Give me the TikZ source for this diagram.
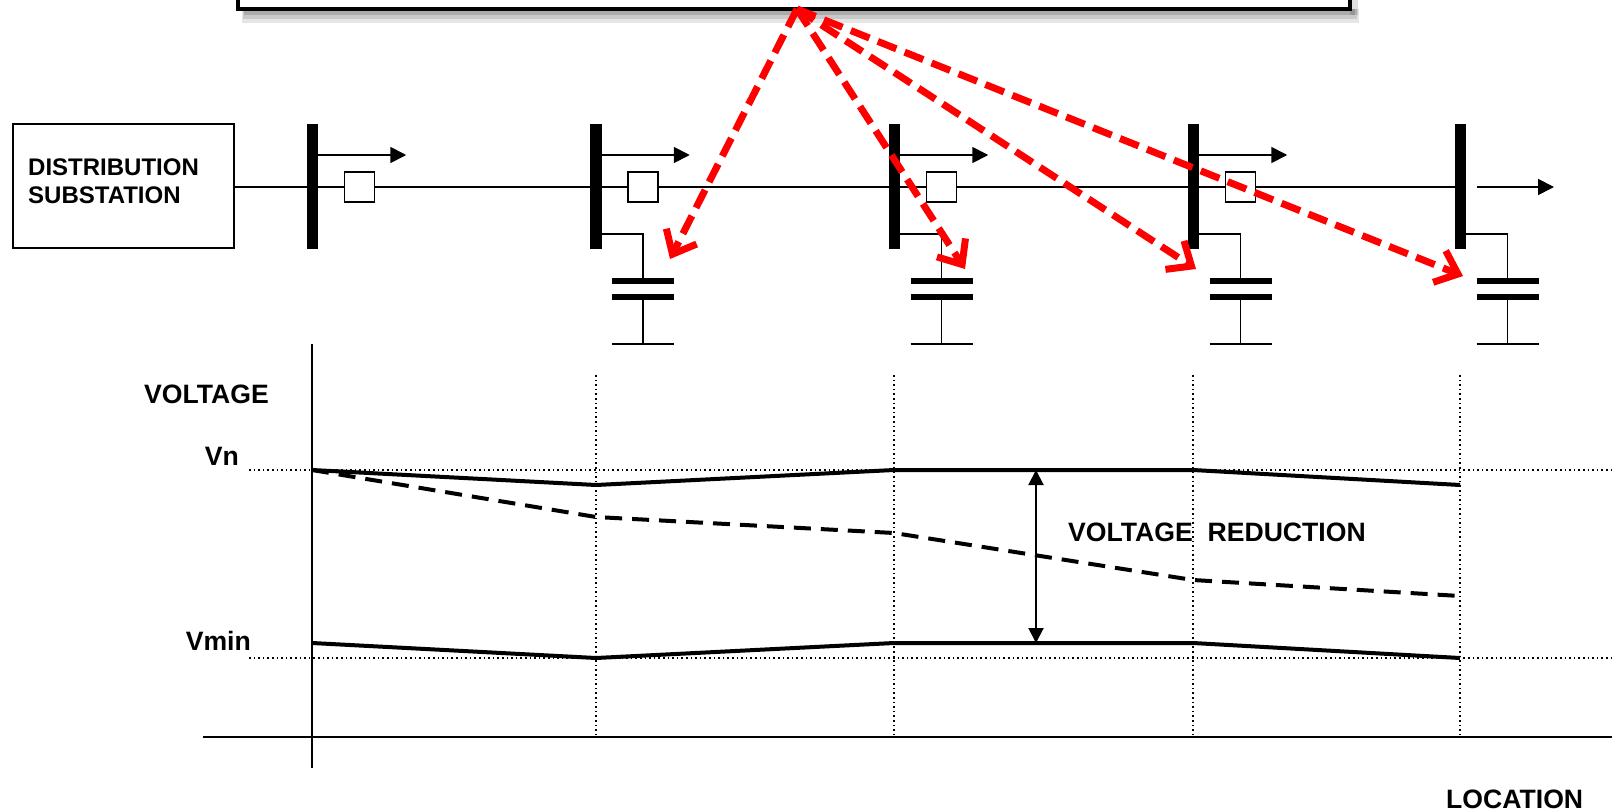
\documentclass[tikz,border=0pt]{standalone}
\usepackage{fontspec}
\setmainfont{Liberation Sans}
\usetikzlibrary{arrows.meta}
\begin{document}
\begin{tikzpicture}[x=1pt,y=-1pt,
  bus/.style={fill=black,draw=none,minimum width=11.5pt,minimum height=125pt,inner sep=0pt,outer sep=0pt},
  brk/.style={draw=black,line width=1.8pt,fill=white,minimum size=30pt,inner sep=0pt,outer sep=0pt},
  subbox/.style={draw=black,line width=1.8pt,minimum width=221pt,minimum height=124pt,inner sep=0pt,outer sep=0pt},
  lbl/.style={font=\fontsize{26.6}{30}\selectfont\bfseries,inner sep=0pt},
  sublbl/.style={font=\fontsize{24}{28}\selectfont\bfseries,inner sep=0pt},
  wire/.style={line width=1.8pt},
  busarrow/.style={line width=1.8pt,-{Triangle[length=16pt,width=16pt]}},
  plate/.style={fill=black,draw=none},
  curve/.style={line width=4pt,line join=round},
  dcurve/.style={line width=4pt,line join=round,dash pattern=on 17pt off 10pt},
  gridline/.style={line width=1.6pt,dash pattern=on 1.6pt off 3pt},
  axis/.style={line width=2pt},
  redarrow/.style={draw=red,line width=7pt,dash pattern=on 20pt off 9pt,
     -{Straight Barb[length=20pt,width=34pt,line width=7pt]}},
  dblarrow/.style={line width=2pt,{Triangle[length=15pt,width=15pt]}-{Triangle[length=15pt,width=15pt]}}
]
\useasboundingbox (0,0) rectangle (1612,811);
\clip (0,0) rectangle (1612,811);
% top box with shadow
\fill[black,opacity=0.10] (242,9) rectangle (1359,23);
\fill[black,opacity=0.12] (243,9) rectangle (1357,19);
\fill[black,opacity=0.15] (244,9) rectangle (1355,15);
\fill[black,opacity=0.12] (1350,-10) rectangle (1358,15);
\node[draw=black,line width=4pt,fill=white,minimum width=1112pt,minimum height=60pt,inner sep=0pt,outer sep=0pt] (topbox) at (794,-21) {};
% substation
\node[subbox] (sub) at (123.5,186) {};
\node[sublbl,anchor=base west] (dist1) at (28,175) {DISTRIBUTION};
\node[sublbl,anchor=base west] (dist2) at (28,203) {SUBSTATION};
% buses
\foreach \i/\x in {1/312.5,2/596,3/894.5,4/1193.5,5/1460.5}{
  \node[bus] (bus\i) at (\x,186.5) {};
}
\draw[wire] (sub.east |- 0,187) -- (bus5.center |- 0,187);
\foreach \i in {1,2,3,4}{
  \node[brk] (brk\i) at ([xshift=47pt]bus\i.center |- 0,187) {};
  \coordinate (la\i) at ([xshift=88pt]bus\i.east |- 0,155);
  \draw[busarrow] (bus\i.east |- 0,155) -- (la\i);
}
\coordinate (la5s) at (1477,187);
\coordinate (la5) at (1554,187);
\draw[busarrow] (la5s) -- (la5);
% capacitors
\foreach \i in {2,3,4,5}{
  \coordinate (cap\i) at ([xshift=47pt]bus\i.center |- 0,278);
  \draw[wire] (bus\i.east |- 0,234) -| (cap\i);
  \fill[plate] ([xshift=-31pt]cap\i) rectangle ([xshift=31pt,yshift=-6pt]cap\i);
  \fill[plate] ([xshift=-31pt,yshift=-16pt]cap\i) rectangle ([xshift=31pt,yshift=-22pt]cap\i);
  \coordinate (gnd\i) at ([yshift=-66pt]cap\i);
  \draw[wire] ([yshift=-22pt]cap\i) -- (gnd\i);
  \draw[wire] ([xshift=-31pt]gnd\i) -- ([xshift=31pt]gnd\i);
}
% graph
\coordinate (ytop) at (312,344);
\coordinate (ybot) at (312,768);
\coordinate (xl) at (203,737);
\coordinate (xr) at (1612,737);
\draw[axis] (ytop) -- (ybot);
\draw[axis] (xl) -- (xr);
\foreach \x in {596,894,1193,1460}{
  \draw[gridline] (\x,375) -- (\x,737);
}
\draw[gridline] (249,470) -- (1612,470);
\draw[gridline] (249,658) -- (1612,658);
\draw[curve] (312,470) -- (596,485) -- (894,470) -- (1193,470) -- (1460,485);
\draw[dcurve] (312,470) -- (596,517) -- (894,533) -- (1193,580) -- (1460,596);
\draw[curve] (312,643) -- (596,658) -- (894,643) -- (1193,643) -- (1460,658);
\coordinate (vrt) at (1036,470);
\coordinate (vrb) at (1036,643);
\draw[dblarrow] (vrt) -- (vrb);
\node[lbl,anchor=base west] (voltage) at (144,403) {VOLTAGE};
\node[lbl,anchor=base east] (vn) at (239,465) {Vn};
\node[lbl,anchor=base east] (vmin) at (251,650) {Vmin};
\node[lbl,anchor=base west] (vred) at (1068,541) {VOLTAGE\ \ REDUCTION};
\node[lbl,anchor=base west] (loc) at (1446,808) {LOCATION};
% red arrows
\coordinate (src) at (797,9);
\coordinate (t1) at (670,259);
\coordinate (t2) at (965,269);
\coordinate (t3) at (1196,269);
\coordinate (t4) at (1463,276);
\foreach \t in {t1,t2,t3,t4}{
  \draw[redarrow] (src) -- (\t);
}
\end{tikzpicture}
\end{document}
